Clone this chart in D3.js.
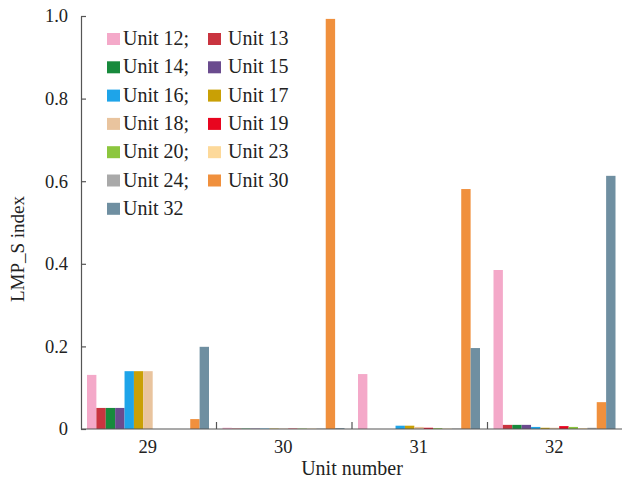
<!DOCTYPE html>
<html>
<head>
<meta charset="utf-8">
<script src="https://cdn.jsdelivr.net/npm/d3@7"></script>
<style>
  html, body { margin: 0; padding: 0; background: #fff; }
  svg { display: block; font-family: "Liberation Serif", "Times New Roman", serif; }
</style>
</head>
<body>
<svg id="chart" width="622" height="486"></svg>
<script>
// ---- data ----
const groups = ["29", "30", "31", "32"];
const units = ["Unit 12", "Unit 13", "Unit 14", "Unit 15", "Unit 16", "Unit 17", "Unit 18",
               "Unit 19", "Unit 20", "Unit 23", "Unit 24", "Unit 30", "Unit 32"];
const legendLabels = ["Unit 12;", "Unit 13", "Unit 14;", "Unit 15", "Unit 16;", "Unit 17",
                      "Unit 18;", "Unit 19", "Unit 20;", "Unit 23", "Unit 24;", "Unit 30", "Unit 32"];
const colors = ["#f4a9c9", "#c9343f", "#178a3c", "#6a4b8e", "#1ea4e9", "#c9a005", "#e9c49e",
                "#e8051f", "#8cc63e", "#fdd99a", "#a9a9a9", "#f0903d", "#6f8fa1"];
// values per group per unit
const values29 = [0.131, 0.051, 0.051, 0.051, 0.140, 0.140, 0.140, 0, 0, 0, 0, 0.024, 0.199];
const values30 = [0.003, 0.001, 0.001, 0.001, 0.001, 0.001, 0.001, 0.001, 0.001, 0.001, 0.001, 0.993, 0.002];
const values31 = [0.133, 0, 0, 0, 0.008, 0.008, 0.005, 0.003, 0.002, 0.001, 0.001, 0.581, 0.196];
const values32 = [0.385, 0.010, 0.010, 0.010, 0.005, 0.003, 0.003, 0.007, 0.005, 0.002, 0.003, 0.065, 0.613];
const yTicks = [0, 0.2, 0.4, 0.6, 0.8, 1.0];
const yTickLabels = ["0", "0.2", "0.4", "0.6", "0.8", "1.0"];

const table = [values29, values30, values31, values32];

(function () {
  const svg = d3.select("#chart");
  const mLeft = 81, mTop = 16, mBottom = 429, mRight = 623;

  const x0 = d3.scaleBand().domain(groups).range([mLeft, mRight]).paddingInner(0).paddingOuter(0);
  const x1 = d3.scaleBand().domain(units).range([6, x0.bandwidth() - 7.5]).padding(0);
  const y = d3.scaleLinear().domain([0, 1]).range([mBottom, mTop]);

  // bars
  const g = svg.append("g");
  groups.forEach((grp, gi) => {
    g.selectAll(null)
      .data(units.map((u, ui) => ({ u, ui, v: table[gi][ui] })))
      .enter().append("rect")
      .attr("x", d => x0(grp) + x1(d.u))
      .attr("width", x1.bandwidth())
      .attr("y", d => y(d.v))
      .attr("height", d => mBottom - y(d.v))
      .attr("fill", d => colors[d.ui]);
  });

  const axisColor = "#555";

  // y axis
  const yAxis = d3.axisLeft(y).tickValues(yTicks).tickFormat((d, i) => yTickLabels[i])
    .tickSizeInner(-5).tickSizeOuter(0).tickPadding(13);
  const ya = svg.append("g").attr("transform", `translate(${mLeft},0)`).call(yAxis);
  ya.select(".domain").attr("stroke", axisColor).attr("stroke-width", 1.2);
  ya.selectAll(".tick line").attr("stroke", axisColor).attr("stroke-width", 1.2);
  ya.selectAll(".tick text").attr("font-family", "Liberation Serif").attr("font-size", 18.5).attr("fill", "#222");

  // x axis: separators at group boundaries, labels at group centres
  svg.append("line").attr("x1", mLeft).attr("x2", 622).attr("y1", mBottom).attr("y2", mBottom)
    .attr("stroke", axisColor).attr("stroke-width", 1.2);
  groups.slice(1).forEach(grp => {
    svg.append("line").attr("x1", x0(grp)).attr("x2", x0(grp)).attr("y1", mBottom).attr("y2", mBottom - 7)
      .attr("stroke", axisColor).attr("stroke-width", 1.2);
  });
  svg.append("g").selectAll("text").data(groups).enter().append("text")
    .attr("x", d => x0(d) + x0.bandwidth() / 2 - 1)
    .attr("y", 453)
    .attr("text-anchor", "middle")
    .attr("font-size", 18.5).attr("fill", "#222")
    .text(d => d);

  // axis titles
  svg.append("text").attr("x", 352).attr("y", 475).attr("text-anchor", "middle")
    .attr("font-size", 20).attr("fill", "#222").text("Unit number");
  svg.append("text").attr("transform", "translate(24,249) rotate(-90)").attr("text-anchor", "middle")
    .attr("font-size", 19).attr("fill", "#222").text("LMP_S index");

  // legend
  const lg = svg.append("g");
  legendLabels.forEach((lab, i) => {
    const col = i % 2, row = Math.floor(i / 2);
    const sx = col === 0 ? 107 : 208;
    const tx = col === 0 ? 123 : 228;
    const sy = 33 + row * 28.3;
    lg.append("rect").attr("x", sx).attr("y", sy).attr("width", 13).attr("height", 12).attr("fill", colors[i]);
    lg.append("text").attr("x", tx).attr("y", sy + 12).attr("font-size", 20).attr("fill", "#222").text(lab);
  });
})();
</script>
</body>
</html>
